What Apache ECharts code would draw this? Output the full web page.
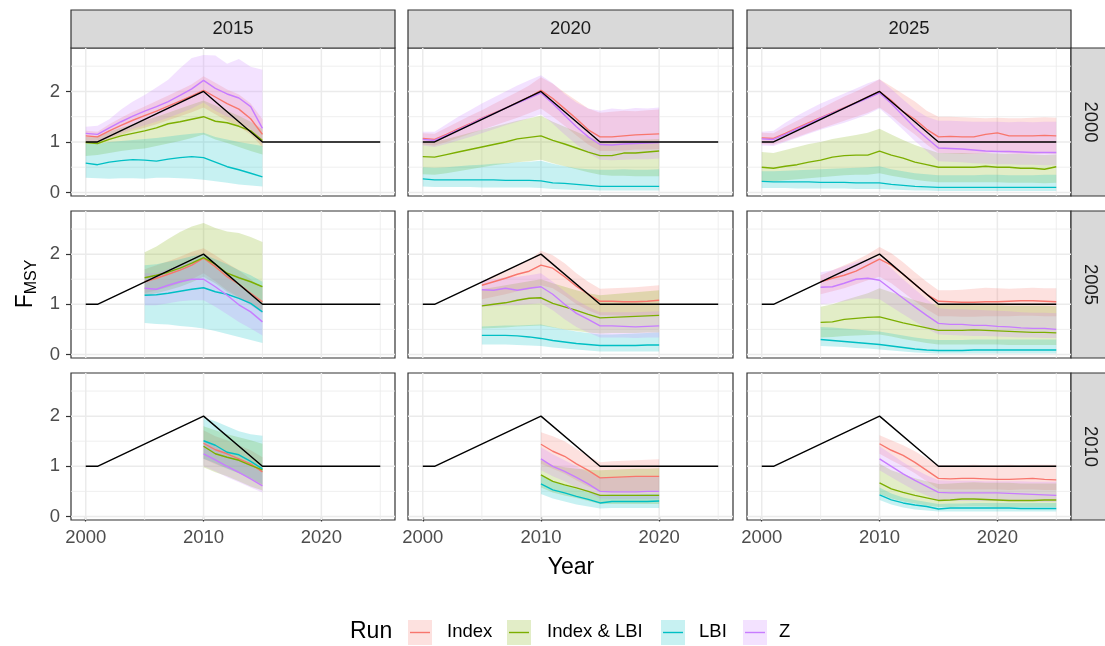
<!DOCTYPE html>
<html>
<head>
<meta charset="utf-8">
<script src="https://cdn.jsdelivr.net/npm/echarts@6/dist/echarts.min.js"></script>
<style>
  html, body { margin: 0; padding: 0; background: #ffffff; }
  #chart { width: 1105px; height: 646px; }
</style>
</head>
<body>
<div id="chart"></div>
<script>
// Facet rows: first year of the assessment; facet columns: final year
const rowYears = [2000, 2005, 2010];
const colYears = [2015, 2020, 2025];
const runs = ['Index', 'Index & LBI', 'LBI', 'Z'];
const runColors = ['#F8766D', '#7CAE00', '#00BFC4', '#C77CFF'];
const xTicks = [2000, 2010, 2020];
const yTicks = [0, 1, 2];

// True fishing mortality relative to F_MSY
const trueYears = [2000, 2001, 2010, 2015, 2025];
const trueF = [1, 1, 2, 1, 1];

// ---- start 2000, end 2015 (years 2000-2015) ----
const idx_00_15    = [1.12,1.10,1.22,1.33,1.43,1.52,1.61,1.71,1.81,1.91,2.02,1.89,1.76,1.65,1.46,1.15];
const idxLo_00_15  = [1.00,0.98,1.06,1.14,1.22,1.28,1.35,1.43,1.51,1.59,1.68,1.55,1.42,1.30,1.15,0.90];
const idxHi_00_15  = [1.22,1.20,1.35,1.48,1.60,1.70,1.81,1.92,2.03,2.14,2.30,2.17,2.04,1.94,1.76,1.45];
const both_00_15   = [0.99,0.97,1.05,1.12,1.17,1.22,1.28,1.36,1.40,1.45,1.50,1.41,1.38,1.31,1.22,1.03];
const bothLo_00_15 = [0.72,0.74,0.78,0.82,0.85,0.87,0.92,0.97,1.02,1.08,1.15,1.05,0.98,0.90,0.82,0.75];
const bothHi_00_15 = [1.10,1.12,1.20,1.28,1.35,1.42,1.50,1.58,1.66,1.74,1.82,1.72,1.62,1.52,1.40,1.25];
const lbi_00_15    = [0.58,0.55,0.60,0.63,0.65,0.64,0.62,0.66,0.69,0.71,0.69,0.60,0.51,0.45,0.38,0.31];
const lbiLo_00_15  = [0.29,0.28,0.27,0.28,0.28,0.27,0.29,0.29,0.28,0.27,0.25,0.22,0.19,0.16,0.14,0.12];
const lbiHi_00_15  = [0.97,0.96,1.00,1.02,1.04,1.06,1.08,1.11,1.14,1.16,1.18,1.10,1.05,1.00,0.96,0.92];
const z_00_15      = [1.17,1.15,1.28,1.40,1.51,1.61,1.70,1.80,1.92,2.05,2.22,2.06,1.95,1.87,1.70,1.27];
const zLo_00_15    = [1.02,1.00,1.08,1.18,1.26,1.33,1.40,1.48,1.57,1.66,1.78,1.62,1.50,1.42,1.25,0.95];
const zHi_00_15    = [1.30,1.32,1.45,1.64,1.80,1.93,2.08,2.23,2.46,2.66,2.72,2.71,2.55,2.64,2.49,2.43];

// ---- start 2000, end 2020 (years 2000-2020) ----
const idx_00_20    = [1.07,1.05,1.15,1.26,1.36,1.47,1.57,1.67,1.78,1.89,2.02,1.86,1.66,1.46,1.24,1.10,1.10,1.12,1.14,1.15,1.16];
const idxLo_00_20  = [0.95,0.93,1.00,1.08,1.16,1.24,1.32,1.40,1.48,1.57,1.66,1.50,1.32,1.13,0.95,0.82,0.82,0.83,0.85,0.85,0.86];
const idxHi_00_20  = [1.17,1.16,1.28,1.40,1.52,1.63,1.75,1.87,1.99,2.12,2.28,2.15,1.98,1.82,1.66,1.58,1.60,1.62,1.61,1.63,1.64];
const both_00_20   = [0.71,0.70,0.75,0.80,0.85,0.90,0.95,1.00,1.06,1.09,1.12,1.03,0.96,0.88,0.80,0.73,0.73,0.78,0.78,0.80,0.82];
const bothLo_00_20 = [0.36,0.35,0.38,0.42,0.46,0.50,0.54,0.57,0.60,0.62,0.65,0.58,0.52,0.46,0.40,0.35,0.33,0.33,0.32,0.32,0.32];
const bothHi_00_20 = [1.00,1.00,1.06,1.12,1.18,1.24,1.30,1.36,1.42,1.47,1.52,1.40,1.30,1.20,1.10,1.02,1.02,1.04,1.04,1.05,1.06];
const lbi_00_20    = [0.27,0.25,0.25,0.25,0.25,0.25,0.25,0.24,0.24,0.24,0.23,0.19,0.18,0.16,0.14,0.12,0.12,0.12,0.12,0.12,0.12];
const lbiLo_00_20  = [0.12,0.11,0.11,0.11,0.11,0.10,0.10,0.10,0.10,0.10,0.09,0.07,0.06,0.05,0.05,0.04,0.04,0.04,0.04,0.04,0.04];
const lbiHi_00_20  = [0.50,0.49,0.50,0.52,0.54,0.55,0.57,0.58,0.60,0.61,0.63,0.57,0.52,0.48,0.46,0.45,0.45,0.46,0.45,0.45,0.46];
const z_00_20      = [1.05,1.03,1.13,1.24,1.35,1.46,1.56,1.67,1.77,1.87,1.97,1.76,1.53,1.30,1.10,0.95,0.94,0.96,0.97,0.98,0.99];
const zLo_00_20    = [0.93,0.90,0.96,1.03,1.10,1.17,1.25,1.33,1.40,1.47,1.55,1.36,1.15,0.95,0.78,0.65,0.64,0.65,0.66,0.66,0.67];
const zHi_00_20    = [1.20,1.20,1.35,1.50,1.63,1.76,1.88,2.00,2.12,2.22,2.32,2.16,1.95,1.78,1.66,1.62,1.66,1.64,1.67,1.66,1.68];

// ---- start 2000, end 2025 (years 2000-2025) ----
const idx_00_25    = [1.08,1.07,1.17,1.28,1.38,1.48,1.58,1.68,1.78,1.89,2.00,1.82,1.60,1.45,1.25,1.10,1.11,1.10,1.10,1.15,1.18,1.12,1.12,1.12,1.13,1.12];
const idxLo_00_25  = [0.96,0.95,1.02,1.10,1.18,1.26,1.34,1.42,1.50,1.58,1.68,1.52,1.32,1.15,0.95,0.78,0.77,0.76,0.76,0.78,0.80,0.77,0.76,0.76,0.77,0.76];
const idxHi_00_25  = [1.18,1.17,1.30,1.42,1.54,1.66,1.78,1.90,2.00,2.12,2.24,2.10,1.95,1.80,1.62,1.50,1.50,1.49,1.48,1.47,1.48,1.47,1.47,1.48,1.49,1.48];
const both_00_25   = [0.50,0.48,0.52,0.55,0.60,0.64,0.70,0.73,0.74,0.74,0.82,0.74,0.68,0.60,0.55,0.50,0.50,0.50,0.50,0.52,0.50,0.50,0.48,0.48,0.46,0.51];
const bothLo_00_25 = [0.22,0.22,0.24,0.26,0.28,0.30,0.32,0.34,0.35,0.35,0.38,0.33,0.29,0.25,0.22,0.20,0.20,0.20,0.20,0.20,0.20,0.19,0.19,0.19,0.18,0.19];
const bothHi_00_25 = [0.80,0.78,0.84,0.90,0.96,1.00,1.06,1.10,1.14,1.18,1.26,1.15,1.04,0.94,0.86,0.78,0.78,0.78,0.77,0.78,0.77,0.76,0.76,0.75,0.74,0.75];
const lbi_00_25    = [0.22,0.21,0.21,0.21,0.21,0.20,0.20,0.20,0.19,0.19,0.19,0.16,0.14,0.12,0.11,0.10,0.10,0.10,0.10,0.10,0.10,0.10,0.10,0.10,0.10,0.10];
const lbiLo_00_25  = [0.09,0.09,0.09,0.08,0.08,0.08,0.08,0.08,0.07,0.07,0.07,0.06,0.05,0.04,0.04,0.03,0.03,0.03,0.03,0.03,0.03,0.03,0.03,0.03,0.03,0.03];
const lbiHi_00_25  = [0.42,0.42,0.43,0.44,0.45,0.46,0.47,0.48,0.49,0.50,0.52,0.46,0.42,0.38,0.36,0.34,0.34,0.34,0.34,0.35,0.35,0.34,0.34,0.34,0.35,0.35];
const z_00_25      = [1.06,1.05,1.15,1.26,1.36,1.47,1.57,1.67,1.77,1.87,1.97,1.76,1.52,1.28,1.08,0.88,0.87,0.86,0.84,0.82,0.81,0.81,0.80,0.79,0.79,0.79];
const zLo_00_25    = [0.93,0.92,1.00,1.08,1.16,1.24,1.31,1.38,1.46,1.55,1.66,1.46,1.24,1.02,0.82,0.62,0.61,0.60,0.58,0.57,0.56,0.56,0.55,0.55,0.54,0.54];
const zHi_00_25    = [1.20,1.22,1.38,1.52,1.64,1.76,1.86,1.96,2.06,2.16,2.24,2.05,1.84,1.64,1.50,1.42,1.42,1.41,1.40,1.40,1.40,1.39,1.40,1.39,1.40,1.40];

// ---- start 2005, end 2015 (years 2005-2015) ----
const idx_05_15    = [1.45,1.52,1.60,1.68,1.78,1.92,1.75,1.55,1.40,1.22,1.05];
const idxLo_05_15  = [1.22,1.28,1.34,1.42,1.50,1.62,1.46,1.28,1.14,0.98,0.82];
const idxHi_05_15  = [1.70,1.78,1.86,1.95,2.05,2.12,1.98,1.82,1.68,1.50,1.32];
const both_05_15   = [1.53,1.58,1.64,1.72,1.82,1.93,1.80,1.62,1.53,1.45,1.35];
const bothLo_05_15 = [1.18,1.22,1.28,1.35,1.44,1.55,1.42,1.25,1.12,1.00,0.88];
const bothHi_05_15 = [2.04,2.15,2.30,2.44,2.55,2.62,2.52,2.45,2.42,2.34,2.24];
const lbi_05_15    = [1.18,1.19,1.22,1.26,1.30,1.33,1.25,1.20,1.12,1.02,0.85];
const lbiLo_05_15  = [0.63,0.61,0.60,0.57,0.55,0.52,0.47,0.41,0.35,0.29,0.23];
const lbiHi_05_15  = [1.78,1.80,1.85,1.90,1.96,2.00,1.90,1.80,1.68,1.58,1.45];
const z_05_15      = [1.32,1.30,1.38,1.45,1.50,1.50,1.35,1.18,0.99,0.85,0.65];
const zLo_05_15    = [0.98,0.98,1.02,1.06,1.08,1.08,0.95,0.80,0.65,0.52,0.38];
const zHi_05_15    = [1.62,1.62,1.70,1.78,1.85,1.90,1.72,1.55,1.36,1.18,0.98];

// ---- start 2005, end 2020 (years 2005-2020) ----
const idx_05_20    = [1.38,1.45,1.52,1.60,1.66,1.78,1.72,1.55,1.36,1.20,1.06,1.06,1.05,1.05,1.06,1.08];
const idxLo_05_20  = [1.10,1.15,1.20,1.26,1.30,1.38,1.32,1.17,1.00,0.88,0.78,0.78,0.77,0.77,0.78,0.78];
const idxHi_05_20  = [1.45,1.58,1.68,1.78,1.88,2.07,1.98,1.82,1.62,1.45,1.31,1.32,1.33,1.34,1.36,1.38];
const both_05_20   = [0.97,1.00,1.03,1.08,1.12,1.13,1.02,0.95,0.88,0.80,0.73,0.74,0.75,0.76,0.77,0.78];
const bothLo_05_20 = [0.52,0.53,0.54,0.56,0.57,0.58,0.54,0.50,0.47,0.44,0.42,0.43,0.43,0.43,0.44,0.44];
const bothHi_05_20 = [1.30,1.34,1.38,1.42,1.46,1.50,1.42,1.35,1.28,1.22,1.18,1.20,1.22,1.24,1.26,1.28];
const lbi_05_20    = [0.38,0.38,0.38,0.37,0.35,0.32,0.28,0.25,0.22,0.20,0.18,0.18,0.18,0.18,0.19,0.19];
const lbiLo_05_20  = [0.20,0.20,0.20,0.19,0.18,0.17,0.14,0.12,0.10,0.08,0.06,0.06,0.06,0.06,0.06,0.06];
const lbiHi_05_20  = [0.56,0.57,0.58,0.58,0.59,0.60,0.55,0.50,0.46,0.43,0.40,0.40,0.41,0.42,0.43,0.44];
const z_05_20      = [1.29,1.28,1.32,1.28,1.32,1.35,1.20,1.00,0.82,0.70,0.57,0.57,0.56,0.55,0.56,0.57];
const zLo_05_20    = [0.95,0.96,0.98,0.98,1.00,1.02,0.88,0.70,0.55,0.44,0.34,0.34,0.34,0.33,0.34,0.34];
const zHi_05_20    = [1.48,1.50,1.54,1.55,1.58,1.62,1.45,1.26,1.08,0.95,0.84,0.84,0.84,0.84,0.85,0.86];

// ---- start 2005, end 2025 (years 2005-2025) ----
const idx_05_25    = [1.45,1.52,1.58,1.66,1.78,1.90,1.78,1.60,1.40,1.20,1.06,1.05,1.04,1.04,1.05,1.05,1.06,1.07,1.07,1.06,1.05];
const idxLo_05_25  = [1.20,1.26,1.32,1.40,1.48,1.55,1.42,1.24,1.06,0.90,0.76,0.76,0.75,0.75,0.76,0.76,0.76,0.77,0.77,0.76,0.76];
const idxHi_05_25  = [1.58,1.68,1.78,1.88,2.00,2.14,2.02,1.84,1.64,1.45,1.28,1.28,1.29,1.31,1.33,1.32,1.31,1.32,1.33,1.32,1.32];
const both_05_25   = [0.64,0.65,0.70,0.72,0.74,0.75,0.69,0.63,0.58,0.53,0.48,0.48,0.48,0.49,0.48,0.47,0.46,0.45,0.44,0.44,0.43];
const bothLo_05_25 = [0.34,0.35,0.37,0.38,0.39,0.40,0.36,0.31,0.27,0.23,0.20,0.20,0.20,0.20,0.20,0.20,0.19,0.19,0.19,0.19,0.19];
const bothHi_05_25 = [0.95,1.00,1.08,1.15,1.22,1.32,1.24,1.16,1.08,1.02,0.99,0.99,0.99,0.98,0.98,0.98,0.97,0.97,0.97,0.97,0.96];
const lbi_05_25    = [0.30,0.28,0.26,0.24,0.22,0.20,0.17,0.14,0.11,0.09,0.08,0.08,0.08,0.09,0.09,0.09,0.09,0.09,0.09,0.09,0.09];
const lbiLo_05_25  = [0.17,0.16,0.15,0.13,0.12,0.10,0.08,0.06,0.04,0.03,0.02,0.02,0.02,0.02,0.02,0.02,0.02,0.02,0.02,0.02,0.02];
const lbiHi_05_25  = [0.55,0.54,0.52,0.50,0.48,0.46,0.42,0.38,0.34,0.31,0.29,0.29,0.29,0.30,0.30,0.30,0.30,0.30,0.30,0.30,0.30];
const z_05_25      = [1.34,1.35,1.42,1.50,1.52,1.48,1.30,1.12,0.95,0.78,0.62,0.60,0.60,0.58,0.58,0.56,0.55,0.53,0.52,0.52,0.50];
const zLo_05_25    = [1.00,1.02,1.06,1.10,1.12,1.10,0.95,0.80,0.66,0.52,0.40,0.39,0.38,0.37,0.37,0.36,0.35,0.34,0.34,0.33,0.33];
const zHi_05_25    = [1.64,1.68,1.76,1.84,1.90,1.92,1.72,1.50,1.30,1.10,0.92,0.90,0.90,0.89,0.88,0.87,0.86,0.84,0.83,0.83,0.82];

// ---- start 2010, end 2015 (years 2010-2015) ----
const idx_10_15    = [1.46,1.33,1.25,1.15,1.05,0.89];
const idxLo_10_15  = [1.15,1.04,0.96,0.86,0.76,0.62];
const idxHi_10_15  = [1.72,1.60,1.52,1.42,1.32,1.18];
const both_10_15   = [1.40,1.25,1.18,1.12,1.02,0.93];
const bothLo_10_15 = [0.98,0.88,0.80,0.70,0.60,0.52];
const bothHi_10_15 = [1.80,1.72,1.64,1.58,1.52,1.45];
const lbi_10_15    = [1.51,1.42,1.28,1.23,1.10,0.95];
const lbiLo_10_15  = [1.15,1.06,0.95,0.86,0.76,0.64];
const lbiHi_10_15  = [1.98,1.90,1.80,1.70,1.64,1.61];
const z_10_15      = [1.25,1.13,1.00,0.88,0.75,0.61];
const zLo_10_15    = [1.00,0.90,0.78,0.68,0.58,0.48];
const zHi_10_15    = [1.52,1.40,1.28,1.14,1.02,0.88];

// ---- start 2010, end 2020 (years 2010-2020) ----
const idx_10_20    = [1.44,1.30,1.20,1.05,0.92,0.77,0.78,0.79,0.80,0.80,0.80];
const idxLo_10_20  = [1.05,0.95,0.85,0.72,0.60,0.50,0.50,0.51,0.51,0.52,0.52];
const idxHi_10_20  = [1.68,1.60,1.50,1.35,1.20,1.08,1.10,1.11,1.12,1.13,1.14];
const both_10_20   = [0.83,0.70,0.63,0.57,0.50,0.42,0.42,0.42,0.42,0.42,0.42];
const bothLo_10_20 = [0.58,0.48,0.42,0.37,0.31,0.25,0.25,0.25,0.25,0.25,0.25];
const bothHi_10_20 = [1.12,1.02,0.98,0.95,0.93,0.92,0.93,0.94,0.95,0.95,0.96];
const lbi_10_20    = [0.65,0.53,0.47,0.40,0.34,0.27,0.30,0.30,0.30,0.30,0.31];
const lbiLo_10_20  = [0.45,0.36,0.30,0.24,0.20,0.16,0.17,0.17,0.17,0.17,0.17];
const lbiHi_10_20  = [0.82,0.70,0.62,0.55,0.48,0.42,0.44,0.44,0.44,0.45,0.45];
const z_10_20      = [1.15,1.00,0.90,0.78,0.65,0.50,0.49,0.49,0.49,0.50,0.50];
const zLo_10_20    = [0.92,0.80,0.70,0.58,0.48,0.36,0.35,0.35,0.35,0.35,0.35];
const zHi_10_20    = [1.38,1.24,1.12,1.00,0.88,0.78,0.78,0.78,0.79,0.79,0.80];

// ---- start 2010, end 2025 (years 2010-2025) ----
const idx_10_25    = [1.45,1.32,1.22,1.08,0.92,0.76,0.75,0.76,0.76,0.75,0.74,0.74,0.75,0.76,0.74,0.73];
const idxLo_10_25  = [1.25,1.12,1.00,0.86,0.70,0.55,0.54,0.54,0.54,0.54,0.54,0.53,0.54,0.54,0.53,0.53];
const idxHi_10_25  = [1.62,1.52,1.42,1.30,1.16,1.02,1.02,1.02,1.03,1.02,1.02,1.03,1.02,1.03,1.03,1.03];
const both_10_25   = [0.67,0.55,0.48,0.42,0.37,0.32,0.33,0.35,0.35,0.34,0.33,0.32,0.32,0.32,0.33,0.33];
const bothLo_10_25 = [0.45,0.36,0.30,0.26,0.22,0.19,0.19,0.20,0.20,0.20,0.19,0.19,0.19,0.19,0.19,0.19];
const bothHi_10_25 = [1.05,0.92,0.84,0.76,0.70,0.65,0.66,0.67,0.68,0.67,0.67,0.67,0.66,0.66,0.66,0.66];
const lbi_10_25    = [0.43,0.33,0.27,0.23,0.20,0.15,0.17,0.17,0.17,0.17,0.17,0.17,0.16,0.16,0.16,0.16];
const lbiLo_10_25  = [0.33,0.24,0.18,0.14,0.12,0.10,0.10,0.10,0.10,0.10,0.10,0.10,0.10,0.10,0.10,0.10];
const lbiHi_10_25  = [0.58,0.46,0.38,0.33,0.29,0.25,0.26,0.26,0.27,0.27,0.27,0.27,0.27,0.27,0.27,0.27];
const z_10_25      = [1.15,1.00,0.85,0.72,0.60,0.48,0.47,0.47,0.47,0.47,0.47,0.46,0.45,0.44,0.43,0.42];
const zLo_10_25    = [0.92,0.78,0.65,0.52,0.42,0.32,0.31,0.31,0.31,0.31,0.31,0.30,0.30,0.30,0.29,0.29];
const zHi_10_25    = [1.40,1.24,1.08,0.94,0.82,0.72,0.71,0.71,0.71,0.70,0.70,0.70,0.70,0.69,0.69,0.69];

// Lookup: panel -> [median, lower, upper] for each run (in runs order)
const panelRuns = {
  '00_15': [[idx_00_15, idxLo_00_15, idxHi_00_15], [both_00_15, bothLo_00_15, bothHi_00_15], [lbi_00_15, lbiLo_00_15, lbiHi_00_15], [z_00_15, zLo_00_15, zHi_00_15]],
  '00_20': [[idx_00_20, idxLo_00_20, idxHi_00_20], [both_00_20, bothLo_00_20, bothHi_00_20], [lbi_00_20, lbiLo_00_20, lbiHi_00_20], [z_00_20, zLo_00_20, zHi_00_20]],
  '00_25': [[idx_00_25, idxLo_00_25, idxHi_00_25], [both_00_25, bothLo_00_25, bothHi_00_25], [lbi_00_25, lbiLo_00_25, lbiHi_00_25], [z_00_25, zLo_00_25, zHi_00_25]],
  '05_15': [[idx_05_15, idxLo_05_15, idxHi_05_15], [both_05_15, bothLo_05_15, bothHi_05_15], [lbi_05_15, lbiLo_05_15, lbiHi_05_15], [z_05_15, zLo_05_15, zHi_05_15]],
  '05_20': [[idx_05_20, idxLo_05_20, idxHi_05_20], [both_05_20, bothLo_05_20, bothHi_05_20], [lbi_05_20, lbiLo_05_20, lbiHi_05_20], [z_05_20, zLo_05_20, zHi_05_20]],
  '05_25': [[idx_05_25, idxLo_05_25, idxHi_05_25], [both_05_25, bothLo_05_25, bothHi_05_25], [lbi_05_25, lbiLo_05_25, lbiHi_05_25], [z_05_25, zLo_05_25, zHi_05_25]],
  '10_15': [[idx_10_15, idxLo_10_15, idxHi_10_15], [both_10_15, bothLo_10_15, bothHi_10_15], [lbi_10_15, lbiLo_10_15, lbiHi_10_15], [z_10_15, zLo_10_15, zHi_10_15]],
  '10_20': [[idx_10_20, idxLo_10_20, idxHi_10_20], [both_10_20, bothLo_10_20, bothHi_10_20], [lbi_10_20, lbiLo_10_20, lbiHi_10_20], [z_10_20, zLo_10_20, zHi_10_20]],
  '10_25': [[idx_10_25, idxLo_10_25, idxHi_10_25], [both_10_25, bothLo_10_25, bothHi_10_25], [lbi_10_25, lbiLo_10_25, lbiHi_10_25], [z_10_25, zLo_10_25, zHi_10_25]]
};

// ---- layout ----
const FONT = "'Liberation Sans', Arial, Helvetica, sans-serif";
const colLeft = [71, 408, 747], colWidth = [324, 325, 324];
const rowTop = [48, 211, 373], rowHeight = [148, 147, 147];
const X_MIN = 1998.75, X_MAX = 2026.25, Y_MIN = -0.07, Y_MAX = 2.86;
const BAND_ALPHA = 0.22;

function yearsBetween(a, b) { const out = []; for (let y = a; y <= b; y++) out.push(y); return out; }
function rgba(hex, a) {
  const n = parseInt(hex.slice(1), 16);
  return 'rgba(' + ((n >> 16) & 255) + ',' + ((n >> 8) & 255) + ',' + (n & 255) + ',' + a + ')';
}
function gridLineData(xs, ys) {
  const d = [];
  xs.forEach(x => { d.push([x, Y_MIN], [x, Y_MAX], ['-', '-']); });
  ys.forEach(y => { d.push([X_MIN, y], [X_MAX, y], ['-', '-']); });
  return d;
}

const grids = [], xAxes = [], yAxes = [], series = [], graphics = [];

rowYears.forEach((ry, r) => {
  colYears.forEach((cy, c) => {
    const gi = r * 3 + c;
    const key = String(ry).slice(2) + '_' + String(cy).slice(2);
    const yrs = yearsBetween(ry, cy);
    const runData = panelRuns[key];

    grids.push({
      left: colLeft[c], top: rowTop[r], width: colWidth[c], height: rowHeight[r],
      show: true, backgroundColor: '#ffffff', borderColor: '#333333', borderWidth: 1.2
    });
    xAxes.push({
      gridIndex: gi, type: 'value', min: X_MIN, max: X_MAX,
      splitLine: { show: false }, axisLine: { show: false },
      axisTick: { show: r === 2, customValues: xTicks, length: 5, lineStyle: { color: '#333333', width: 1.2 } },
      axisLabel: { show: r === 2, customValues: xTicks, formatter: v => String(v),
        color: '#4D4D4D', fontSize: 18.5, fontFamily: FONT, margin: 8 }
    });
    yAxes.push({
      gridIndex: gi, type: 'value', min: Y_MIN, max: Y_MAX,
      splitLine: { show: false }, axisLine: { show: false },
      axisTick: { show: c === 0, customValues: yTicks, length: 5, lineStyle: { color: '#333333', width: 1.2 } },
      axisLabel: { show: c === 0, customValues: yTicks, formatter: v => String(v),
        color: '#4D4D4D', fontSize: 18.5, fontFamily: FONT, margin: 11 }
    });

    // panel grid lines (minor then major)
    series.push({
      type: 'line', xAxisIndex: gi, yAxisIndex: gi, z: 1, silent: true, showSymbol: false, symbol: 'none',
      data: gridLineData([2005, 2015, 2025], [0.5, 1.5, 2.5]),
      lineStyle: { color: '#EBEBEB', width: 0.8 }, animation: false
    });
    series.push({
      type: 'line', xAxisIndex: gi, yAxisIndex: gi, z: 1, silent: true, showSymbol: false, symbol: 'none',
      data: gridLineData(xTicks, yTicks),
      lineStyle: { color: '#EBEBEB', width: 1.5 }, animation: false
    });

    // uncertainty ribbons
    runData.forEach((rd, k) => {
      const lo = rd[1], hi = rd[2];
      series.push({
        type: 'custom', xAxisIndex: gi, yAxisIndex: gi, z: 2, silent: true, clip: true,
        data: yrs.map((y, i) => [y, lo[i], hi[i]]),
        encode: { x: 0, y: [1, 2] },
        renderItem: function (params, api) {
          if (params.dataIndex !== 0) return null;
          const pts = [];
          for (let i = 0; i < yrs.length; i++) pts.push(api.coord([yrs[i], hi[i]]));
          for (let i = yrs.length - 1; i >= 0; i--) pts.push(api.coord([yrs[i], lo[i]]));
          return { type: 'polygon', shape: { points: pts }, style: { fill: rgba(runColors[k], BAND_ALPHA) } };
        },
        animation: false
      });
    });
    // medians
    runData.forEach((rd, k) => {
      series.push({
        type: 'line', name: runs[k], xAxisIndex: gi, yAxisIndex: gi, z: 3, silent: true,
        showSymbol: false, symbol: 'none',
        data: yrs.map((y, i) => [y, rd[0][i]]),
        lineStyle: { color: runColors[k], width: 1.4 }, animation: false
      });
    });
    // true F trajectory
    series.push({
      type: 'line', xAxisIndex: gi, yAxisIndex: gi, z: 4, silent: true, showSymbol: false, symbol: 'none',
      data: trueYears.map((y, i) => [y, trueF[i]]),
      lineStyle: { color: '#000000', width: 1.4 }, animation: false
    });

    // strips
    if (r === 0) {
      graphics.push({ type: 'rect', silent: true, shape: { x: colLeft[c], y: 10, width: colWidth[c], height: 38 },
        style: { fill: '#D9D9D9', stroke: '#333333', lineWidth: 1.2 } });
      graphics.push({ type: 'text', silent: true, x: colLeft[c] + colWidth[c] / 2, y: 29,
        style: { text: String(cy), fill: '#1A1A1A', fontSize: 18.5, fontFamily: FONT, align: 'center', verticalAlign: 'middle' } });
    }
    if (c === 2) {
      graphics.push({ type: 'rect', silent: true, shape: { x: 1071, y: rowTop[r], width: 38, height: rowHeight[r] },
        style: { fill: '#D9D9D9', stroke: '#333333', lineWidth: 1.2 } });
      graphics.push({ type: 'text', silent: true, x: 1090, y: rowTop[r] + rowHeight[r] / 2, rotation: -Math.PI / 2,
        style: { text: String(ry), fill: '#1A1A1A', fontSize: 18.5, fontFamily: FONT, align: 'center', verticalAlign: 'middle' } });
    }
  });
});

// axis titles
graphics.push({ type: 'text', silent: true, x: 571, y: 568,
  style: { text: 'Year', fill: '#000000', fontSize: 23, fontFamily: FONT, align: 'center', verticalAlign: 'middle' } });
graphics.push({ type: 'text', silent: true, x: 26, y: 284, rotation: Math.PI / 2,
  style: { text: '{f|F}{s|MSY}', fill: '#000000', fontFamily: FONT, align: 'center', verticalAlign: 'middle',
    rich: {
      f: { fontSize: 23, fontFamily: FONT, fill: '#000000', lineHeight: 28 },
      s: { fontSize: 16, fontFamily: FONT, fill: '#000000', lineHeight: 14, verticalAlign: 'bottom' }
    } } });

// legend
const legendKeyX = [408, 507, 661, 743];
const legendTextX = [447, 547, 699, 779];
graphics.push({ type: 'text', silent: true, x: 350, y: 632,
  style: { text: 'Run', fill: '#000000', fontSize: 23, fontFamily: FONT, align: 'left', verticalAlign: 'middle' } });
runs.forEach((name, k) => {
  graphics.push({ type: 'rect', silent: true, shape: { x: legendKeyX[k], y: 620, width: 24, height: 25 },
    style: { fill: rgba(runColors[k], BAND_ALPHA), stroke: null } });
  graphics.push({ type: 'line', silent: true, shape: { x1: legendKeyX[k] + 2, y1: 632.5, x2: legendKeyX[k] + 22, y2: 632.5 },
    style: { stroke: runColors[k], lineWidth: 1.4 } });
  graphics.push({ type: 'text', silent: true, x: legendTextX[k], y: 632,
    style: { text: name, fill: '#000000', fontSize: 18.5, fontFamily: FONT, align: 'left', verticalAlign: 'middle' } });
});

const chart = echarts.init(document.getElementById('chart'), null, { renderer: 'canvas' });
chart.setOption({
  animation: false,
  backgroundColor: '#ffffff',
  grid: grids,
  xAxis: xAxes,
  yAxis: yAxes,
  series: series,
  graphic: { elements: graphics }
});
</script>
</body>
</html>
